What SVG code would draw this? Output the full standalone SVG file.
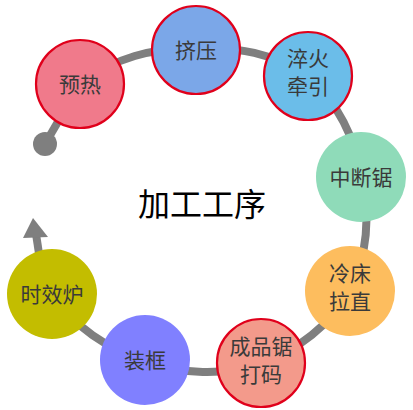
<svg xmlns="http://www.w3.org/2000/svg" width="413" height="410" viewBox="0 0 413 410">
<style>
.c{fill:none;stroke:#7f7f7f;stroke-width:8;stroke-linecap:butt}
.n{stroke:#e0001b;stroke-width:2.2}
.t{font-family:"Noto Sans CJK SC","Noto Sans",sans-serif;font-size:21px;fill:#3a3a3a;text-anchor:middle}
.title{font-family:"Noto Sans CJK SC","Noto Sans",sans-serif;font-size:32px;fill:#000;text-anchor:middle}
</style>
<rect width="413" height="410" fill="#fff"/>
<g id="connectors">
<path class="c" d="M45 144 L80 84"/>
<path class="c" d="M80 84 A165 165 0 0 1 196 50"/>
<path class="c" d="M196 50 A165 165 0 0 1 308 76"/>
<path class="c" d="M308 76 A165 165 0 0 1 361 177"/>
<path class="c" d="M361 177 A165 165 0 0 1 350 291"/>
<path class="c" d="M350 291 A165 165 0 0 1 261 363"/>
<path class="c" d="M261 363 A165 165 0 0 1 145 360"/>
<path class="c" d="M145 360 A165 165 0 0 1 52 294"/>
<path class="c" d="M40 260 L36 234"/>
<circle cx="45" cy="144" r="12" fill="#7f7f7f"/>
<polygon points="33,218 48,237 23,238" fill="#7f7f7f"/>
</g>
<g id="n1"><circle class="n" cx="80" cy="84" r="44" fill="#f07a8b"/><text class="t" x="80" y="92">预热</text></g>
<g id="n2"><circle class="n" cx="196" cy="50" r="44" fill="#7ba7e8"/><text class="t" x="196" y="58">挤压</text></g>
<g id="n3"><circle class="n" cx="308" cy="76" r="44" fill="#6bbde9"/><text class="t" x="308" y="66">淬火</text><text class="t" x="308" y="94">牵引</text></g>
<g id="n4"><circle cx="361" cy="177" r="45" fill="#8fdbb9"/><text class="t" x="361" y="185">中断锯</text></g>
<g id="n5"><circle cx="350" cy="291" r="45" fill="#fdbd5e"/><text class="t" x="350" y="281">冷床</text><text class="t" x="350" y="309">拉直</text></g>
<g id="n6"><circle class="n" cx="261" cy="363" r="44" fill="#f39a8b"/><text class="t" x="261" y="354">成品锯</text><text class="t" x="261" y="382">打码</text></g>
<g id="n7"><circle cx="145" cy="360" r="45" fill="#8080ff"/><text class="t" x="145" y="368">装框</text></g>
<g id="n8"><circle cx="52" cy="294" r="45" fill="#c3bd00"/><text class="t" x="52" y="302">时效炉</text></g>
<text class="title" x="202" y="216">加工工序</text>
</svg>
